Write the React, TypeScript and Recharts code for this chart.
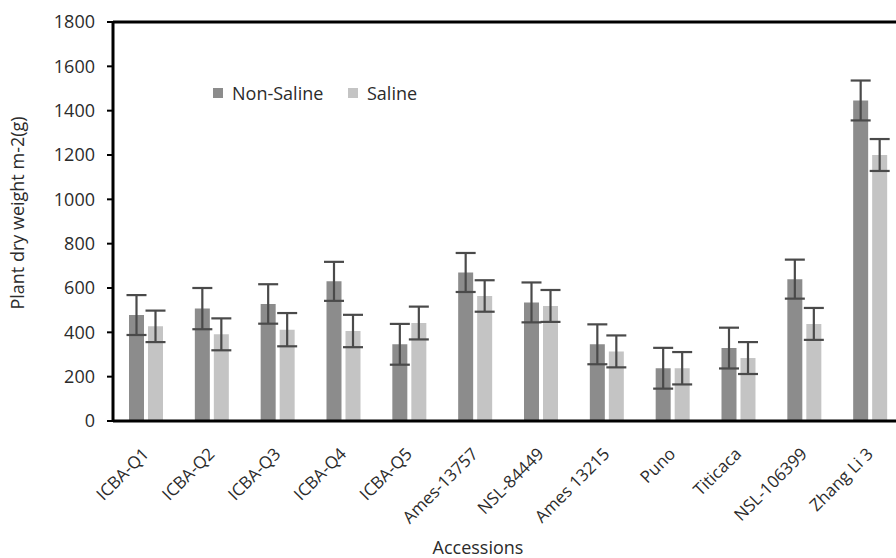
import React from 'react';
import { BarChart, Bar, XAxis, YAxis, ErrorBar, Legend, ReferenceLine } from 'recharts';

const categories = ['ICBA-Q1', 'ICBA-Q2', 'ICBA-Q3', 'ICBA-Q4', 'ICBA-Q5', 'Ames-13757', 'NSL-84449', 'Ames 13215', 'Puno', 'Titicaca', 'NSL-106399', 'Zhang Li 3'];
const nonSaline = [478, 507, 528, 630, 346, 670, 535, 346, 238, 329, 640, 1446];
const nonSalineErr = [90, 93, 89, 88, 92, 88, 90, 90, 92, 92, 88, 90];
const saline = [427, 391, 412, 406, 442, 564, 519, 314, 238, 284, 438, 1200];
const salineErr = [71, 72, 75, 73, 74, 71, 72, 72, 73, 72, 72, 72];
const yTicks = [0, 200, 400, 600, 800, 1000, 1200, 1400, 1600, 1800];

const DARK = '#8c8c8c';
const LIGHT = '#c4c4c4';
const FONT = '"Open Sans", sans-serif';
const TEXT = '#2b2b2b';
const TICK_SIZE = 6;
const TICK_MARGIN = 12;

const data = categories.map((c, i) => ({
  name: c,
  nonSaline: nonSaline[i],
  nonSalineErr: nonSalineErr[i],
  saline: saline[i],
  salineErr: salineErr[i],
}));

const XTick = (props: any) => {
  const { x, y, payload } = props;
  return (
    <g transform={`translate(${x + 4},${y + 26})`}>
      <text x={0} y={0} textAnchor="end" transform="rotate(-45)" fontFamily={FONT} fontSize={17} fill={TEXT}>
        {payload.value}
      </text>
    </g>
  );
};

const YTick = (props: any) => {
  const { x, y, payload } = props;
  const lineEnd = x + TICK_MARGIN + TICK_SIZE;
  return (
    <g>
      <line x1={lineEnd - TICK_SIZE} x2={lineEnd} y1={y} y2={y} stroke="#000" strokeWidth={2} />
      <text x={x} y={y} dy="0.36em" textAnchor="end" fontFamily={FONT} fontSize={18} fill={TEXT}>
        {payload.value}
      </text>
    </g>
  );
};

const LegendContent = () => (
  <div style={{ display: 'flex', alignItems: 'center', fontFamily: FONT, fontSize: 18, color: TEXT, whiteSpace: 'nowrap' }}>
    <div style={{ display: 'flex', alignItems: 'center', width: 135 }}>
      <span style={{ display: 'inline-block', width: 10, height: 10, background: DARK, marginRight: 9 }} />
      <span>Non-Saline</span>
    </div>
    <div style={{ display: 'flex', alignItems: 'center' }}>
      <span style={{ display: 'inline-block', width: 10, height: 10, background: LIGHT, marginRight: 9 }} />
      <span>Saline</span>
    </div>
  </div>
);

export default function App() {
  return (
    <div style={{ position: 'absolute', left: 0, top: 0, width: 896, height: 558, overflow: 'hidden', background: '#fff' }}>
      <BarChart
        width={910}
        height={558}
        data={data}
        margin={{ top: 22, right: 7, left: 0, bottom: 0 }}
        barSize={15}
        barGap={4}
      >
        <XAxis
          dataKey="name"
          height={137}
          axisLine={false}
          tickLine={false}
          tick={<XTick />}
          interval={0}
          label={{
            content: () => (
              <text x={478} y={554} textAnchor="middle" fontFamily={FONT} fontSize={18} fill={TEXT}>
                Accessions
              </text>
            ),
          }}
        />
        <YAxis
          width={113}
          domain={[0, 1800]}
          ticks={yTicks}
          interval={0}
          axisLine={false}
          tickLine={false}
          tickSize={TICK_SIZE}
          tickMargin={TICK_MARGIN}
          tick={<YTick />}
          label={{
            content: () => (
              <text x={24} y={213} textAnchor="middle" transform="rotate(-90 24 213)" fontFamily={FONT} fontSize={18} fill={TEXT}>
                Plant dry weight m-2(g)
              </text>
            ),
          }}
        />
        <Legend
          layout="horizontal"
          verticalAlign="middle"
          align="center"
          content={<LegendContent />}
          wrapperStyle={{ position: 'absolute', left: 213, top: 81, width: 'auto', height: 'auto' }}
        />
        <Bar dataKey="nonSaline" name="Non-Saline" fill={DARK} isAnimationActive={false}>
          <ErrorBar dataKey="nonSalineErr" width={10} stroke="#4a4a4a" strokeWidth={2.2} />
        </Bar>
        <Bar dataKey="saline" name="Saline" fill={LIGHT} isAnimationActive={false}>
          <ErrorBar dataKey="salineErr" width={10} stroke="#4a4a4a" strokeWidth={2.2} />
        </Bar>
        <ReferenceLine y={0} stroke="#000" strokeWidth={3} />
        <ReferenceLine y={1800} stroke="#000" strokeWidth={3} />
        <ReferenceLine x="ICBA-Q1" position="start" stroke="#000" strokeWidth={3} />
      </BarChart>
    </div>
  );
}
